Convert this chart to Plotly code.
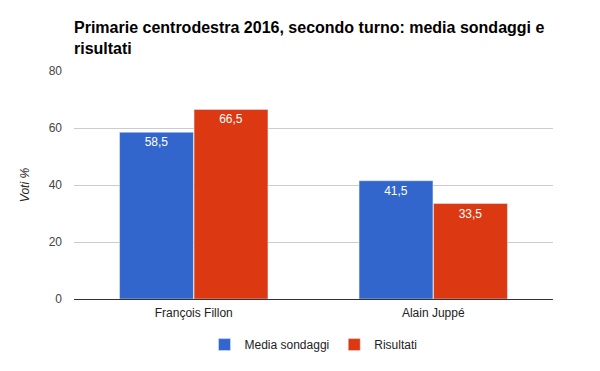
import plotly.graph_objects as go

categories = ["François Fillon", "Alain Juppé"]
media_sondaggi = [58.5, 41.5]
risultati = [66.5, 33.5]
y_ticks = [0, 20, 40, 60, 80]

def fmt(v):
    return f"{v:.1f}".replace(".", ",")

W, H = 592, 363  # page body has an 8px margin

fig = go.Figure()
fig.add_trace(go.Bar(
    x=categories, y=media_sondaggi, name="Media sondaggi",
    marker=dict(color="#3366cc"),
    text=[fmt(v) for v in media_sondaggi],
    textposition="inside", insidetextanchor="end",
    textfont=dict(color="white", size=12, family="Liberation Sans, Arial"),
))
fig.add_trace(go.Bar(
    x=categories, y=risultati, name="Risultati",
    marker=dict(color="#dc3912"),
    text=[fmt(v) for v in risultati],
    textposition="inside", insidetextanchor="end",
    textfont=dict(color="white", size=12, family="Liberation Sans, Arial"),
))

fig.update_layout(
    width=W, height=H,
    margin=dict(l=66, r=47, t=63, b=72, autoexpand=False),
    paper_bgcolor="white", plot_bgcolor="white",
    font=dict(family="Liberation Sans, Arial", size=12, color="#222222"),
    title=dict(
        text="Primarie centrodestra 2016, secondo turno: media sondaggi e<br>risultati",
        x=66/W, xanchor="left", y=1 - 25/H, yanchor="top",
        font=dict(size=16, color="#000000", family="Liberation Sans, Arial", weight="bold"),
    ),
    barmode="group", bargap=0.378, bargroupgap=0.008,
    showlegend=True,
    legend=dict(orientation="h", x=0.5, xanchor="center", y=-0.2, yanchor="middle",
                font=dict(size=12, color="#222222")),
    uniformtext=dict(minsize=10, mode="show"),
)
fig.update_xaxes(showgrid=False, ticks="", tickfont=dict(size=12, color="#222222"),
                 showline=False, automargin=False, ticklabelstandoff=5)
fig.update_yaxes(range=[0, 80], tickvals=y_ticks, showgrid=True, gridcolor="#cccccc",
                 zeroline=True, zerolinecolor="#333333", zerolinewidth=1,
                 tickfont=dict(size=12, color="#444444"), ticks="", ticklabelstandoff=11,
                 automargin=False,
                 title=dict(text="Voti %", font=dict(size=12, color="#222222", style="italic"),
                            standoff=16))

fig.write_html("out.html")
